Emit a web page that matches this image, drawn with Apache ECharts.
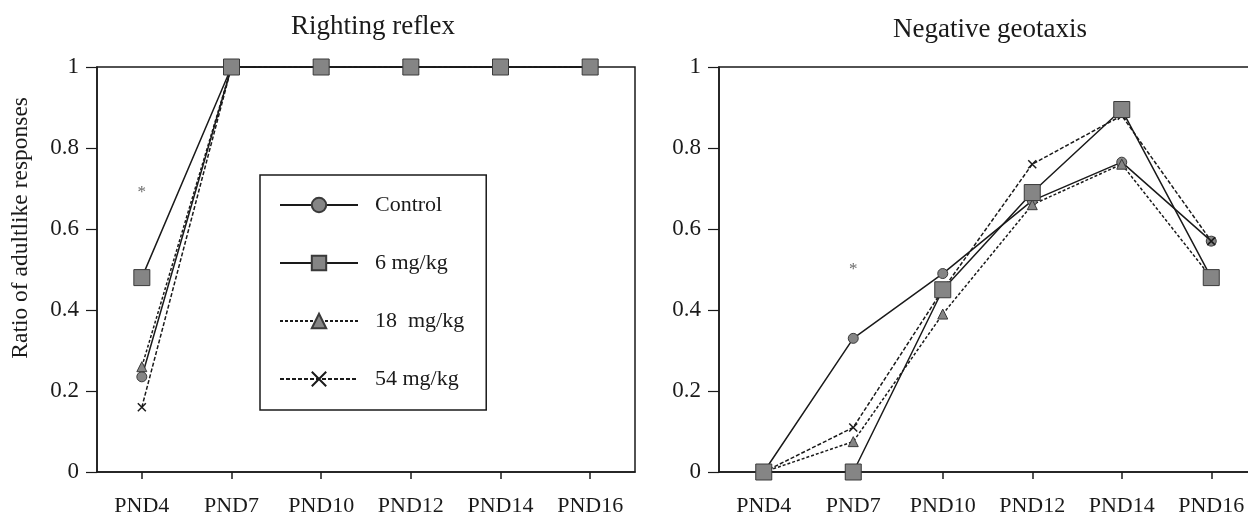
<!DOCTYPE html>
<html>
<head>
<meta charset="utf-8">
<script src="https://cdn.jsdelivr.net/npm/echarts@6/dist/echarts.min.js"></script>
<style>
  html, body { margin: 0; padding: 0; background: #fff; }
  #chart { width: 1248px; height: 518px; }
</style>
</head>
<body>
<div id="chart"></div>
<script>
// categories (postnatal days)
const days = ['PND4', 'PND7', 'PND10', 'PND12', 'PND14', 'PND16'];
const groupNames = ['Control', '6 mg/kg', '18  mg/kg', '54 mg/kg'];
const yTicks = [0, 0.2, 0.4, 0.6, 0.8, 1];

// Righting reflex
const rightingControl = [0.235, 1, 1, 1, 1, 1];
const righting6 = [0.48, 1, 1, 1, 1, 1];
const righting18 = [0.26, 1, 1, 1, 1, 1];
const righting54 = [0.16, 1, 1, 1, 1, 1];

// Negative geotaxis
const geotaxisControl = [0, 0.33, 0.49, 0.67, 0.765, 0.57];
const geotaxis6 = [0, 0, 0.45, 0.69, 0.895, 0.48];
const geotaxis18 = [0, 0.075, 0.39, 0.66, 0.76, 0.48];
const geotaxis54 = [0, 0.11, 0.45, 0.76, 0.88, 0.57];

// significance marks (*)
const sigRighting = [['PND4', 0.69]];
const sigGeotaxis = [['PND7', 0.5]];

const FONT = 'Liberation Serif';
const INK = '#1a1a1a';
const MARK_FILL = '#858585';
const MARK_EDGE = '#3a3a3a';

const groupStyle = [
  { symbol: 'circle', size: 10, line: 'solid' },
  { symbol: 'rect', size: 16, line: 'solid' },
  { symbol: 'triangle', size: 10, line: [3, 2] },
  { symbol: 'path://M0,0L10,10M10,0L0,10', size: 8, line: [4, 2] }
];

const makeLine = (name, idx, data, axis) => {
  const st = groupStyle[idx];
  return {
    name: name,
    type: 'line',
    xAxisIndex: axis,
    yAxisIndex: axis,
    data: data,
    symbol: st.symbol,
    symbolSize: st.size,
    showAllSymbol: true,
    lineStyle: { color: INK, width: 1.5, type: st.line },
    itemStyle: {
      color: idx === 3 ? 'none' : MARK_FILL,
      borderColor: idx === 3 ? INK : MARK_EDGE,
      borderWidth: idx === 3 ? 1.5 : 1
    },
    emphasis: { disabled: true },
    animation: false,
    z: idx === 1 ? 5 : 3
  };
};

const makeSig = (data, axis) => ({
  type: 'scatter',
  xAxisIndex: axis,
  yAxisIndex: axis,
  data: data,
  symbolSize: 1,
  itemStyle: { color: 'rgba(0,0,0,0)' },
  label: {
    show: true,
    position: 'inside',
    formatter: '*',
    fontFamily: FONT,
    fontSize: 17,
    color: '#444'
  },
  silent: true,
  animation: false
});

const xAxisBase = (grid) => ({
  type: 'category',
  gridIndex: grid,
  data: days,
  boundaryGap: true,
  axisLine: { show: true, lineStyle: { color: INK, width: 1.5 } },
  axisTick: { show: true, alignWithLabel: true, length: 7, lineStyle: { color: INK, width: 1.5 } },
  axisLabel: { color: INK, fontFamily: FONT, fontSize: 22, margin: 23 },
  splitLine: { show: false }
});

const yAxisBase = (grid) => ({
  type: 'value',
  gridIndex: grid,
  min: yTicks[0],
  max: yTicks[yTicks.length - 1],
  interval: 0.2,
  axisLine: { show: true, lineStyle: { color: INK, width: 1.5 } },
  axisTick: { show: true, length: 11, lineStyle: { color: INK, width: 1.2 } },
  axisLabel: { color: INK, fontFamily: FONT, fontSize: 23, margin: 18 },
  splitLine: { show: false }
});

const chart = echarts.init(document.getElementById('chart'));

chart.setOption({
  backgroundColor: '#fff',
  animation: false,
  title: [
    {
      text: 'Righting reflex',
      left: 368, top: 8, textAlign: 'center',
      textStyle: { fontFamily: FONT, fontSize: 27, fontWeight: 'normal', color: INK }
    },
    {
      text: 'Negative geotaxis',
      left: 985, top: 11, textAlign: 'center',
      textStyle: { fontFamily: FONT, fontSize: 27, fontWeight: 'normal', color: INK }
    }
  ],
  grid: [
    { left: 97, top: 67, width: 538, height: 405, show: true, borderColor: INK, borderWidth: 1.5, outerBoundsMode: 'none' },
    { left: 719, top: 67, width: 537, height: 405, show: true, borderColor: INK, borderWidth: 1.5, outerBoundsMode: 'none' }
  ],
  xAxis: [xAxisBase(0), xAxisBase(1)],
  yAxis: [yAxisBase(0), yAxisBase(1)],
  legend: {
    orient: 'vertical',
    left: 260,
    top: 175,
    data: groupNames,
    itemWidth: 78,
    itemHeight: 18,
    itemGap: 36,
    padding: [19, 22, 20, 19],
    borderColor: INK,
    borderWidth: 1.5,
    selectedMode: false,
    textStyle: { fontFamily: FONT, fontSize: 22, color: INK, padding: [0, 0, 0, 12] }
  },
  graphic: [
    {
      type: 'text',
      left: 9,
      top: 97,
      rotation: Math.PI / 2,
      style: {
        text: 'Ratio of adultlike responses',
        fontFamily: FONT,
        fontSize: 23.5,
        fill: INK
      }
    }
  ],
  series: [
    makeLine(groupNames[0], 0, rightingControl, 0),
    makeLine(groupNames[2], 2, righting18, 0),
    makeLine(groupNames[3], 3, righting54, 0),
    makeLine(groupNames[1], 1, righting6, 0),
    makeSig(sigRighting, 0),
    makeLine(groupNames[0], 0, geotaxisControl, 1),
    makeLine(groupNames[2], 2, geotaxis18, 1),
    makeLine(groupNames[3], 3, geotaxis54, 1),
    makeLine(groupNames[1], 1, geotaxis6, 1),
    makeSig(sigGeotaxis, 1)
  ]
});
</script>
</body>
</html>
